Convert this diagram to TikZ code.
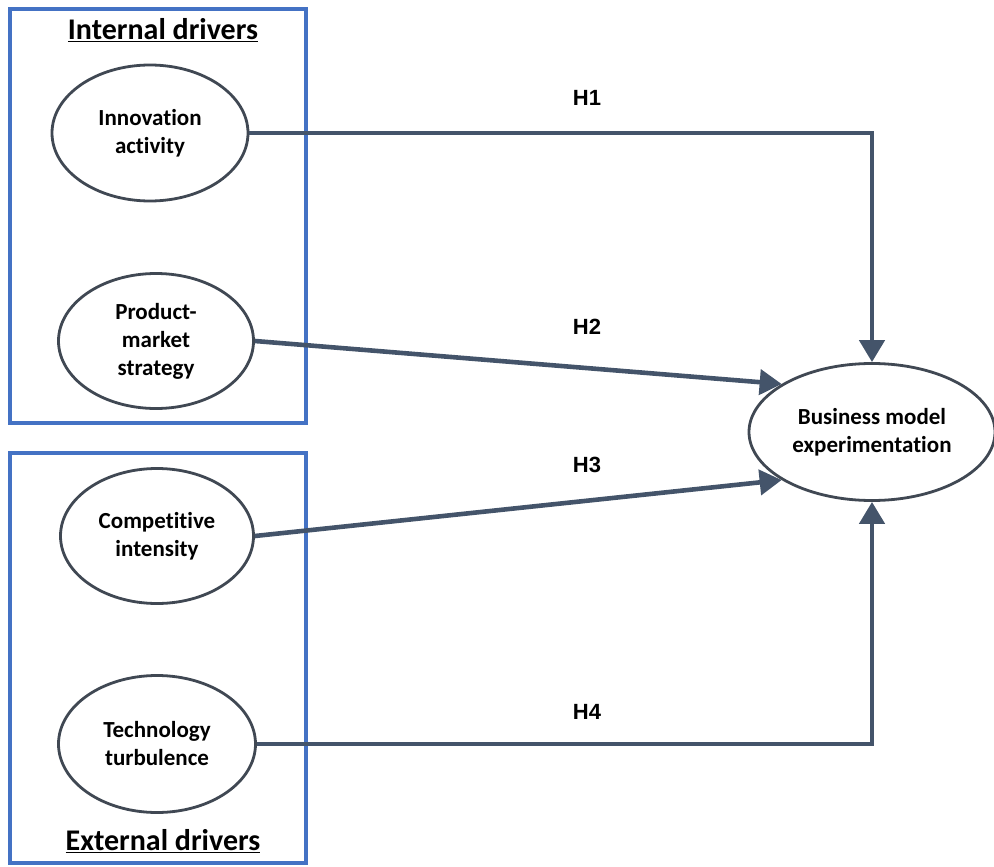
\documentclass[tikz,border=0pt]{standalone}
\usepackage{fontspec}
\setmainfont{Carlito}[Ligatures=NoCommon]
\newfontfamily\hfont{Liberation Sans}
\usetikzlibrary{shapes.geometric,arrows.meta}
\definecolor{boxblue}{HTML}{4472C4}
\definecolor{arrowc}{HTML}{44546A}
\definecolor{ellc}{HTML}{404853}
\tikzset{
  construct/.style={ellipse,draw=ellc,line width=2.8pt,fill=white,inner sep=0pt,
    minimum width=196pt,minimum height=136pt,align=center,
    font=\fontsize{23}{28}\selectfont\bfseries},
  groupbox/.style={draw=boxblue,line width=3.6pt},
  header/.style={font=\fontsize{30}{35}\selectfont\bfseries},
  hyp/.style={font=\hfont\fontsize{22}{26}\selectfont\bfseries},
  link/.style={draw=arrowc,line width=4.6pt,-{Triangle[width=25pt,length=22pt]}}
}
\begin{document}
\begin{tikzpicture}[x=1pt,y=-1pt]
\useasboundingbox (0,0) rectangle (994,867);
\draw[groupbox] (10,9) rectangle (306,423);
\draw[groupbox] (10,453) rectangle (306,863);
\node[header] (hin) at (163,30) {\underline{Internal drivers}};
\node[header] (hex) at (163,841) {\underline{External drivers}};
\node[construct] (I) at (150,133) {Innovation\\activity};
\node[construct,minimum width=195pt,minimum height=135pt] (P) at (156,341) {Product-\\market\\strategy};
\node[construct,minimum width=193pt,minimum height=135pt] (C) at (157,536) {Competitive\\intensity};
\node[construct,minimum width=197pt,minimum height=137pt] (T) at (157,744) {Technology\\turbulence};
\node[construct,minimum width=246pt,minimum height=137pt] (B) at (872,432) {Business model\\experimentation};
\coordinate (k1) at (B.north |- I.east);
\coordinate (k4) at (B.south |- T.east);
\draw[link] (I.east) -- (k1) -- (B.north);
\draw[link] (T.east) -- (k4) -- (B.south);
\draw[link] (P.east) -- (B.152);
\draw[link] (C.east) -- (B.208);
\node[hyp] (h1) at (587,98) {H1};
\node[hyp] (h2) at (587,327) {H2};
\node[hyp] (h3) at (587,465) {H3};
\node[hyp] (h4) at (587,712) {H4};
\end{tikzpicture}
\end{document}
